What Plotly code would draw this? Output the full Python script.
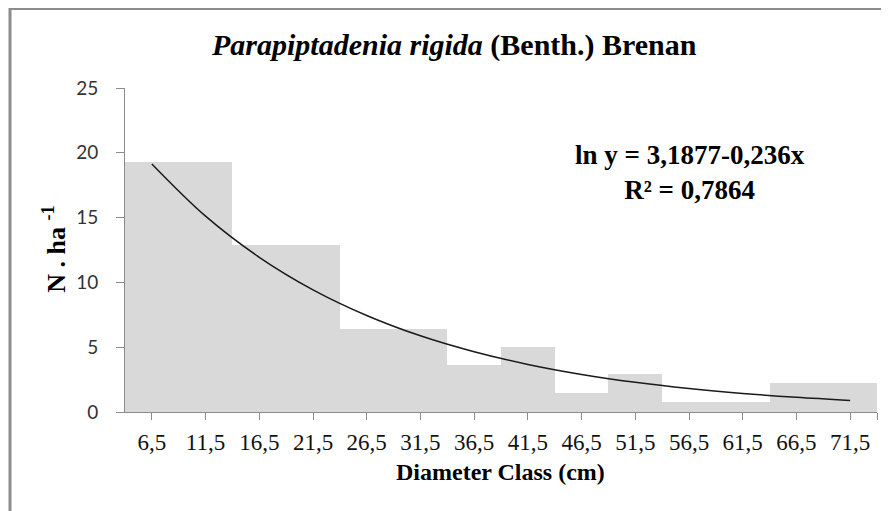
import plotly.graph_objects as go

# classes (cm) and density per class (N . ha-1)
classes = ["6,5", "11,5", "16,5", "21,5", "26,5", "31,5", "36,5",
           "41,5", "46,5", "51,5", "56,5", "61,5", "66,5", "71,5"]
class_idx = list(range(1, 15))
density = [19.3, 19.3, 12.85, 12.85, 6.4, 6.4, 3.6,
           5.05, 1.5, 2.9, 0.75, 0.75, 2.2, 2.2]
# fitted curve ln y = 3,1877 - 0,236x read at each class
trend = [19.14, 15.11, 11.94, 9.43, 7.45, 5.88, 4.65,
         3.67, 2.90, 2.29, 1.81, 1.43, 1.13, 0.89]

# page body has an 8px margin, so the figure is drawn 8px in from the window
OFF = 8
W, H = 889 - OFF, 511 - OFF
L, R, T, B = 125 - OFF, 12, 88 - OFF, 98.5
pw, ph = W - L - R, H - T - B


# helpers: window pixel -> paper coords
def px(x):
    return (x - OFF - L) / pw


def py(y):
    return (H - B - (y - OFF)) / ph


fig = go.Figure()

fig.add_trace(go.Bar(
    x=class_idx, y=density, width=1,
    marker=dict(color="#d9d9d9", line=dict(width=0)),
    hoverinfo="skip",
))

fig.add_trace(go.Scatter(
    x=class_idx, y=trend, mode="lines",
    line=dict(color="#1a1a1a", width=1.5, shape="spline"),
))

axis_grey = "#8c8c8c"
serif_family = "Liberation Serif, Times New Roman, serif"

fig.update_xaxes(
    range=[0.5, 14.5],
    tickvals=class_idx + [14.5],
    ticktext=classes + [""],
    ticks="outside", ticklen=7, tickcolor=axis_grey, tickwidth=1,
    showline=True, linecolor=axis_grey, linewidth=1,
    showgrid=False, zeroline=False,
    tickfont=dict(family=serif_family, size=23, color="#111"),
    ticklabelstandoff=2,
)
fig.update_yaxes(
    range=[0, 25], tickvals=[0, 5, 10, 15, 20, 25],
    ticks="outside", ticklen=8, tickcolor=axis_grey, tickwidth=1,
    showline=True, linecolor=axis_grey, linewidth=1,
    showgrid=False, zeroline=False,
    tickfont=dict(family="Lato", size=19, color="#333"),
    ticklabelstandoff=14,
)

serif = dict(family=serif_family, color="#000")


def note(text, x, y, size, **kw):
    fig.add_annotation(
        text=text, xref="paper", yref="paper", x=px(x), y=py(y),
        xanchor="center", yanchor="middle", showarrow=False,
        font=dict(size=size, **serif), **kw,
    )


note("<b><i>Parapiptadenia rigida</i> (Benth.) Brenan</b>", 454, 45, 30)
note("<b>ln y = 3,1877-0,236x<br>R² = 0,7864</b>", 690, 173, 27,
     align="center")
note("<b>N . ha <sup>-1</sup></b>", 55, 250, 26, textangle=-90)
note("<b>Diameter Class (cm)</b>", 500, 473, 24)

# chart frame: only the top and left edges are visible in the picture
fig.add_shape(
    type="path", xref="paper", yref="paper",
    path=f"M {px(10)} {py(520)} L {px(10)} {py(8.5)} L {px(900)} {py(8.5)}",
    line=dict(color=axis_grey, width=3),
)

fig.update_layout(
    width=W, height=H,
    margin=dict(l=L, r=R, t=T, b=B),
    plot_bgcolor="white", paper_bgcolor="white",
    showlegend=False, bargap=0,
)

fig.write_html("out.html")
